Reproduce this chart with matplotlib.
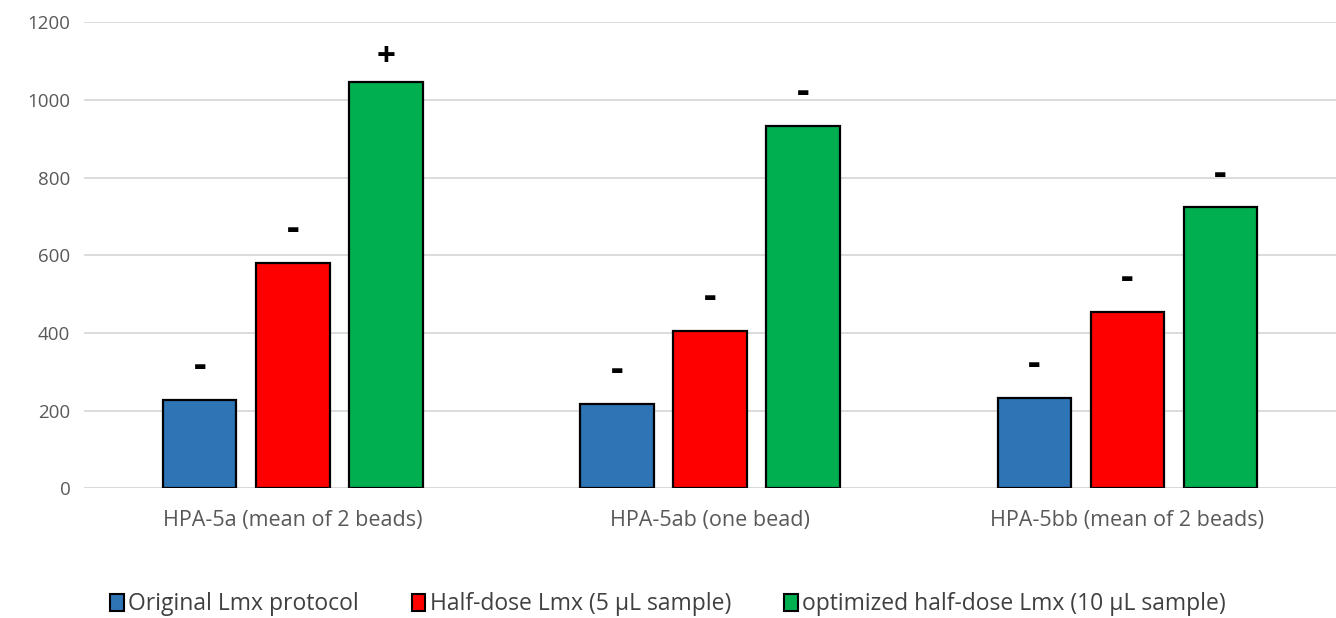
import numpy as np
import matplotlib.pyplot as plt
from matplotlib.patches import Patch

plt.rcParams['font.family'] = ['Open Sans', 'DejaVu Sans']

groups = ['HPA-5a (mean of 2 beads)', 'HPA-5ab (one bead)', 'HPA-5bb (mean of 2 beads)']
series = ['Original Lmx protocol', 'Half-dose Lmx (5 µL sample)', 'optimized half-dose Lmx (10 µL sample)']
original = [228, 218, 233]
half_dose = [581, 405, 455]
optimized = [1046, 932, 723]
signs = [['-', '-', '+'], ['-', '-', '-'], ['-', '-', '-']]
colors = ['#2e75b6', '#ff0000', '#00b050']

fig = plt.figure(figsize=(13.36, 6.18), dpi=100)
ax = fig.add_axes([0.063, 0.21, 0.937, 0.754])

x = np.arange(len(groups))
width = 0.176
step = 0.223
values = [original, half_dose, optimized]
for k, (vals, col, name) in enumerate(zip(values, colors, series)):
    pos = x + (k - 1) * step
    ax.bar(pos, vals, width, color=col, edgecolor='black', linewidth=1.6, zorder=3, label=name)
    for g in range(len(groups)):
        s = signs[g][k]
        ax.annotate(s, (pos[g], vals[g]), xytext=(0, 6 if s == '+' else 10),
                    textcoords='offset points', ha='center', va='bottom',
                    fontsize=24 if s == '+' else 28, fontweight='bold', color='black')

ax.set_xlim(-0.5, 2.5)
ax.set_ylim(0, 1200)
ax.set_yticks(range(0, 1201, 200))
ax.yaxis.grid(True, color='#d9d9d9', linewidth=1.3, zorder=0)
for sp in ax.spines.values():
    sp.set_visible(False)
ax.axhline(0, color='#d9d9d9', linewidth=1.3, zorder=1)
ax.tick_params(axis='y', length=0, labelsize=13.5, colors='#595959', pad=10)
ax.tick_params(axis='x', length=0, labelsize=15.5, colors='#595959', pad=16)
ax.set_xticks(x)
ax.set_xticklabels(groups)

handles = [Patch(facecolor=c, edgecolor='black', linewidth=1.5) for c in colors]
fig.legend(handles, series, loc='center', bbox_to_anchor=(0.5, 0.022), ncol=3,
           frameon=False, fontsize=16.5, handlelength=0.6, handleheight=0.8,
           handletextpad=0.2, columnspacing=2.3, labelcolor='#404040')

fig.savefig('out.png', dpi=100)
